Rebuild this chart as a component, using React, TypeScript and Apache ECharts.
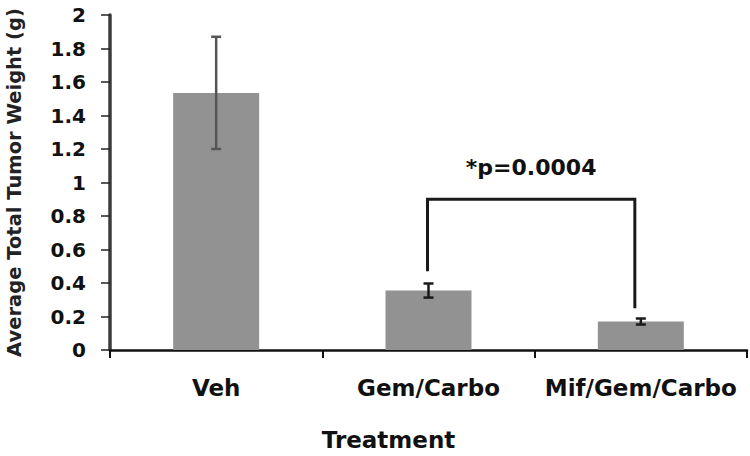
import React, { useEffect, useRef } from "react";
import * as echarts from "echarts";

const categories = ["Veh", "Gem/Carbo", "Mif/Gem/Carbo"];
const means = [1.535, 0.355, 0.17];
const errors = [0.335, 0.042, 0.018];
const errorColors = ["#555555", "#1a1a1a", "#1a1a1a"];
const yTicks = { min: 0, max: 2, interval: 0.2 };
const bracketFrom = 1;
const bracketTo = 2;
const bracketLevel = 0.9;
const bracketEnds = [0.47, 0.25];
const pText = "*p=0.0004";

const FONT = "DejaVu Sans";

export default function App() {
  const ref = useRef<HTMLDivElement>(null);
  useEffect(() => {
    const chart = echarts.init(ref.current!, undefined, { renderer: "svg" });
    chart.setOption({
      animation: false,
      backgroundColor: "#ffffff",
      grid: { left: 110, right: 3, top: 15, bottom: 106, containLabel: false, outerBoundsMode: "none" },
      xAxis: {
        type: "category",
        data: categories,
        name: "Treatment",
        nameLocation: "middle",
        nameGap: 78,
        nameTextStyle: {
          fontFamily: FONT,
          fontWeight: "bold",
          fontSize: 23,
          color: "#111",
          padding: [0, 80, 0, 0],
        },
        axisLine: { show: true, lineStyle: { color: "#111", width: 2.5 } },
        axisTick: { show: true, alignWithLabel: false, length: 8, lineStyle: { color: "#111", width: 2 } },
        axisLabel: {
          interval: 0,
          fontFamily: FONT,
          fontWeight: "bold",
          fontSize: 23,
          color: "#111",
          margin: 26,
        },
      },
      yAxis: {
        type: "value",
        min: yTicks.min,
        max: yTicks.max,
        interval: yTicks.interval,
        name: "Average Total Tumor Weight (g)",
        nameLocation: "middle",
        nameGap: 86,
        nameRotate: 90,
        nameTextStyle: {
          fontFamily: FONT,
          fontWeight: "bold",
          fontSize: 19.5,
          color: "#222",
        },
        splitLine: { show: false },
        axisLine: { show: true, lineStyle: { color: "#3c3c3c", width: 3.5 } },
        axisTick: { show: true, inside: false, length: 9, lineStyle: { color: "#222", width: 1.5 } },
        axisLabel: {
          fontFamily: FONT,
          fontWeight: "bold",
          fontSize: 20,
          color: "#111",
          margin: 24,
          formatter: (v: number) => String(Math.round(v * 10) / 10),
        },
      },
      series: [
        {
          type: "bar",
          data: means,
          barWidth: "40.5%",
          itemStyle: { color: "#929292" },
          z: 2,
        },
        {
          type: "custom",
          z: 5,
          data: means.map((m, i) => [i, m, errors[i]]),
          renderItem: (params: any, api: any) => {
            const i = api.value(0);
            const m = api.value(1);
            const e = api.value(2);
            const top = api.coord([i, m + e]);
            const bot = api.coord([i, m - e]);
            const half = 5;
            const color = errorColors[i];
            const style = { stroke: color, lineWidth: 2.5 };
            return {
              type: "group",
              children: [
                { type: "line", shape: { x1: top[0], y1: top[1], x2: bot[0], y2: bot[1] }, style },
                { type: "line", shape: { x1: top[0] - half, y1: top[1], x2: top[0] + half, y2: top[1] }, style },
                { type: "line", shape: { x1: bot[0] - half, y1: bot[1], x2: bot[0] + half, y2: bot[1] }, style },
              ],
            };
          },
        },
        {
          type: "custom",
          z: 6,
          data: [[bracketFrom, bracketTo, bracketLevel, bracketEnds[0], bracketEnds[1]]],
          renderItem: (params: any, api: any) => {
            const a = api.value(0);
            const b = api.value(1);
            const lvl = api.value(2);
            const ea = api.value(3);
            const eb = api.value(4);
            const pa = api.coord([a, lvl]);
            const pb = api.coord([b, lvl]);
            const pae = api.coord([a, ea]);
            const pbe = api.coord([b, eb]);
            const xa = pa[0] - 1;
            const xb = pb[0] - 6;
            const style = { stroke: "#1a1a1a", lineWidth: 3, fill: "none" };
            return {
              type: "group",
              children: [
                {
                  type: "polyline",
                  shape: { points: [[xa, pae[1]], [xa, pa[1]], [xb, pb[1]], [xb, pbe[1]]] },
                  style,
                },
                {
                  type: "text",
                  x: (xa + xb) / 2,
                  y: pa[1] - 32,
                  style: {
                    text: pText,
                    fontFamily: FONT,
                    fontWeight: "bold",
                    fontSize: 22,
                    fill: "#111",
                    textAlign: "center",
                    textVerticalAlign: "middle",
                  },
                },
              ],
            };
          },
        },
      ],
    });
    return () => chart.dispose();
  }, []);
  return <div ref={ref} style={{ width: 750, height: 456, position: "absolute", left: 0, top: 0 }} />;
}
